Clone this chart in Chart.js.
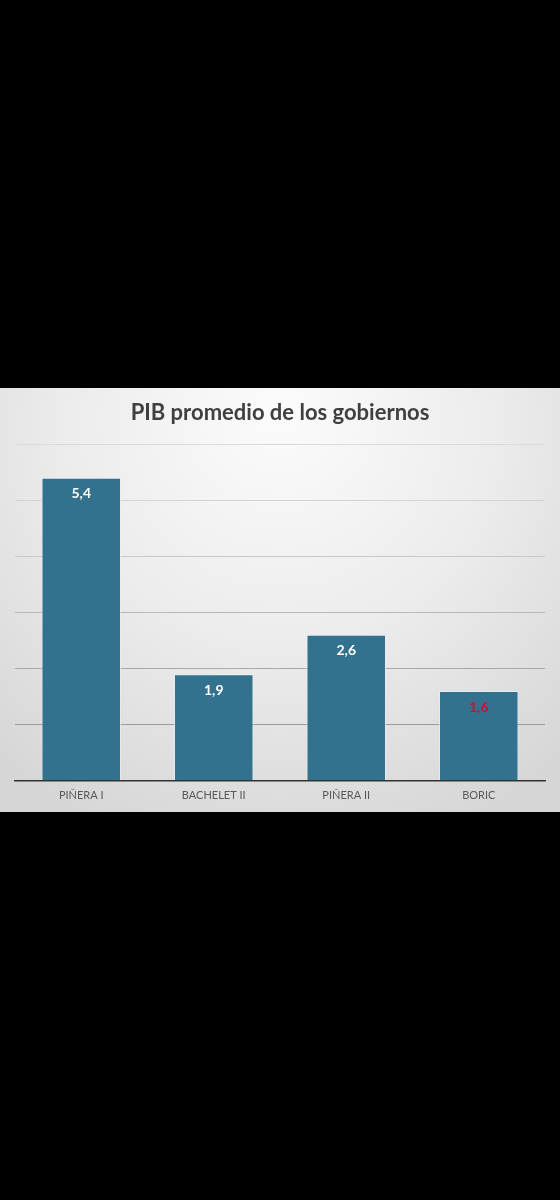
<!DOCTYPE html>
<html>
<head>
<meta charset="utf-8">
<script src="https://cdn.jsdelivr.net/npm/chart.js@4"></script>
<style>
  html, body { margin: 0; padding: 0; background: #000; }
  body { width: 560px; height: 1200px; position: relative; overflow: hidden; }
  #wrap { position: absolute; left: 0; top: 388px; width: 560px; height: 424px; }
</style>
</head>
<body>
<div id="wrap"><canvas id="pibChart"></canvas></div>
<script>
const categories = ['PIÑERA I', 'BACHELET II', 'PIÑERA II', 'BORIC'];
const pibValues = [5.4, 1.9, 2.6, 1.6];
const labelColors = ['#ffffff', '#ffffff', '#ffffff', '#d0102a'];
const gridColors = ['#9a9a9a', '#9a9a9a', '#a8a8a8', '#b8b8b8', '#c8c8c8', '#d4d4d4', '#dadada'];

// gray panel behind everything
const panelBg = {
  id: 'panelBg',
  beforeDraw(chart) {
    const { ctx, width, height } = chart;
    ctx.save();
    const g = ctx.createRadialGradient(width / 2, 20, 10, width / 2, 60, width * 0.75);
    g.addColorStop(0, '#fbfbfb');
    g.addColorStop(0.5, '#ececec');
    g.addColorStop(1, '#d6d6d6');
    ctx.fillStyle = g;
    ctx.fillRect(0, 0, width, height);
    ctx.restore();
  }
};

// values printed inside the top of each bar
const barLabels = {
  id: 'barLabels',
  afterDatasetsDraw(chart) {
    const { ctx } = chart;
    const meta = chart.getDatasetMeta(0);
    ctx.save();
    ctx.font = 'bold 14px Lato';
    ctx.textAlign = 'center';
    ctx.textBaseline = 'middle';
    meta.data.forEach((bar, i) => {
      ctx.fillStyle = labelColors[i];
      ctx.fillText(pibValues[i].toFixed(1).replace('.', ','), bar.x, bar.y + 16);
    });
    ctx.restore();
  }
};

new Chart(document.getElementById('pibChart').getContext('2d'), {
  type: 'bar',
  data: {
    labels: categories,
    datasets: [{
      data: pibValues,
      backgroundColor: '#33728f',
      borderColor: 'rgba(230,240,245,0.7)',
      borderWidth: 1,
      borderSkipped: 'bottom',
      categoryPercentage: 0.6,
      barPercentage: 1
    }]
  },
  options: {
    responsive: true,
    maintainAspectRatio: false,
    animation: false,
    layout: { padding: { left: 15, right: 15, top: 0, bottom: 2 } },
    scales: {
      x: {
        grid: { display: false, drawTicks: false },
        border: { color: '#333333', width: 1.5 },
        ticks: { color: '#595959', font: { family: 'Lato', size: 11 }, padding: 8 }
      },
      y: {
        min: 0,
        max: 6,
        ticks: { display: false, stepSize: 1 },
        border: { display: false },
        grid: {
          drawTicks: false,
          color: c => gridColors[c.index] || '#cccccc',
          lineWidth: 1
        }
      }
    },
    plugins: {
      legend: { display: false },
      tooltip: { enabled: false },
      title: {
        display: true,
        text: 'PIB promedio de los gobiernos',
        color: '#404040',
        font: { family: 'Lato', size: 22, weight: 'bold' },
        padding: { top: 12, bottom: 17.6 }
      }
    }
  },
  plugins: [panelBg, barLabels]
});
</script>
</body>
</html>
